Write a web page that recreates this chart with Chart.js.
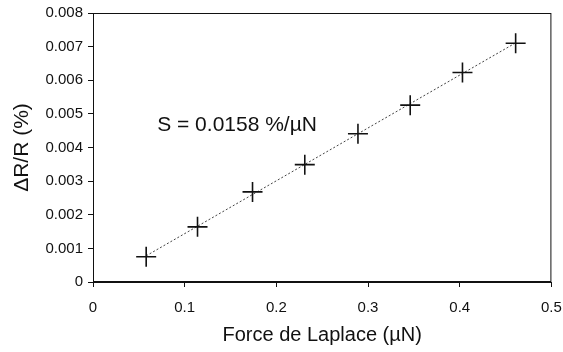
<!DOCTYPE html>
<html>
<head>
<meta charset="utf-8">
<script src="https://cdn.jsdelivr.net/npm/chart.js@4/dist/chart.umd.min.js"></script>
<style>
  html, body { margin: 0; padding: 0; background: #fff; }
  #wrap { width: 563px; height: 352px; }
</style>
</head>
<body>
<div id="wrap"><canvas id="sensChart" width="563" height="352"></canvas></div>
<script>
// Mesures : force de Laplace (µN) et variation relative de résistance (%)
const forceValues = [0.058, 0.114, 0.174, 0.231, 0.289, 0.346, 0.403, 0.461];
const deltaRValues = [0.00075, 0.00164, 0.00268, 0.00349, 0.00441, 0.00526, 0.00623, 0.0071];
const xTicks = [0, 0.1, 0.2, 0.3, 0.4, 0.5];
const yTicks = [0, 0.001, 0.002, 0.003, 0.004, 0.005, 0.006, 0.007, 0.008];
const sensitivityLabel = 'S = 0.0158 %/µN';

const FONT = 'Liberation Sans, Arial, sans-serif';
const INK = '#111';

// droite de regression (moindres carres) sur les mesures
function fitLine(xs, ys) {
  const n = xs.length;
  const mx = xs.reduce((a, b) => a + b, 0) / n;
  const my = ys.reduce((a, b) => a + b, 0) / n;
  let sxy = 0, sxx = 0;
  for (let i = 0; i < n; i++) {
    sxy += (xs[i] - mx) * (ys[i] - my);
    sxx += (xs[i] - mx) * (xs[i] - mx);
  }
  const a = sxy / sxx;
  const b = my - a * mx;
  const x0 = xs[0], x1 = xs[n - 1];
  return [{ x: x0, y: a * x0 + b }, { x: x1, y: a * x1 + b }];
}

const points = forceValues.map((x, i) => ({ x: x, y: deltaRValues[i] }));

// cadre complet + texte de sensibilite
const framePlugin = {
  id: 'frame',
  afterDraw(chart) {
    const { ctx, chartArea: ca, scales } = chart;
    ctx.save();
    ctx.strokeStyle = INK;
    ctx.lineWidth = 1;
    ctx.strokeRect(ca.left + 0.5, ca.top + 0.5, ca.right - ca.left - 1, ca.bottom - ca.top - 1);
    ctx.fillStyle = INK;
    ctx.font = '21px ' + FONT;
    ctx.textBaseline = 'middle';
    ctx.textAlign = 'left';
    ctx.fillText(sensitivityLabel, scales.x.getPixelForValue(0.07), scales.y.getPixelForValue(0.00465));
    ctx.restore();
  }
};

function fmt(v, digits) {
  return Math.abs(v) < 1e-9 ? '0' : Number(v).toFixed(digits);
}

new Chart(document.getElementById('sensChart').getContext('2d'), {
  type: 'scatter',
  data: {
    datasets: [{
      label: 'mesures',
      data: points,
      pointStyle: 'cross',
      pointRadius: 10,
      pointBorderWidth: 1.6,
      borderColor: INK,
      backgroundColor: INK,
      showLine: false
    }, {
      label: 'fit',
      type: 'line',
      data: fitLine(forceValues, deltaRValues),
      borderColor: '#444',
      borderWidth: 1,
      borderDash: [2, 2],
      pointRadius: 0,
      fill: false
    }]
  },
  options: {
    responsive: false,
    animation: false,
    layout: { padding: { top: 13, right: 11, left: 0, bottom: 0 } },
    plugins: {
      legend: { display: false },
      tooltip: { enabled: false }
    },
    scales: {
      x: {
        type: 'linear',
        min: 0,
        max: 0.5,
        afterFit(scale) {
          scale.height = 70;
          scale.paddingLeft = 0;
          scale.paddingRight = 0;
        },
        afterBuildTicks(scale) { scale.ticks = xTicks.map(v => ({ value: v })); },
        grid: { drawOnChartArea: false, drawTicks: true, tickLength: 5, color: INK },
        border: { display: true, color: INK, width: 1 },
        ticks: {
          color: INK,
          font: { family: FONT, size: 15 },
          padding: 12,
          maxRotation: 0,
          callback: v => fmt(v, 1)
        },
        title: {
          display: true,
          text: 'Force de Laplace (µN)',
          color: INK,
          font: { family: FONT, size: 20 },
          padding: { top: 0, bottom: 5 }
        }
      },
      y: {
        type: 'linear',
        min: 0,
        max: 0.008,
        afterFit(scale) {
          scale.width = 93;
          scale.paddingTop = 0;
          scale.paddingBottom = 0;
        },
        afterBuildTicks(scale) { scale.ticks = yTicks.map(v => ({ value: v })); },
        grid: { drawOnChartArea: false, drawTicks: true, tickLength: 5, color: INK },
        border: { display: true, color: INK, width: 1 },
        ticks: {
          color: INK,
          font: { family: FONT, size: 15 },
          padding: 5,
          callback: v => fmt(v, 3)
        },
        title: {
          display: true,
          text: 'ΔR/R (%)',
          color: INK,
          font: { family: FONT, size: 21 },
          padding: { top: 10, bottom: 0 }
        }
      }
    }
  },
  plugins: [framePlugin]
});
</script>
</body>
</html>
